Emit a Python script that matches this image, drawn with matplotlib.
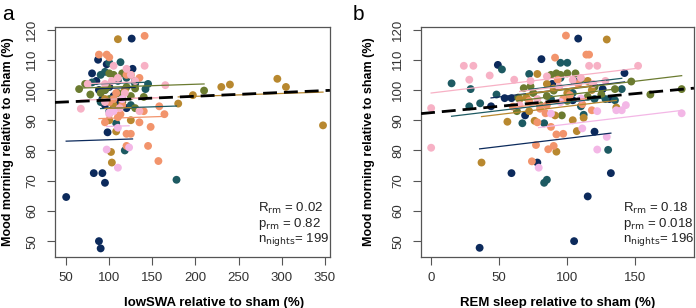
import matplotlib
matplotlib.use("Agg")
import matplotlib.pyplot as plt

plt.rcParams['font.family'] = ['Liberation Sans', 'DejaVu Sans']
plt.rcParams['mathtext.default'] = 'regular'

# colours used for the participants
navy = '#0c2a5c'
teal = '#1d5a62'
olive = '#6b7b30'
golden = '#b8882f'
salmon = '#f2946c'
pink = '#f7b1c5'
lilac = '#f3b7e6'

# panel a: lowSWA relative to sham vs mood, one entry per participant
# (colour, x values, y values, rmcorr intercept)
a_navy1_x = [50, 82, 92, 95, 88, 90, 98, 126, 87, 97, 80, 127]
a_navy1_y = [64.6, 72.5, 72.5, 69.3, 50, 47.6, 86, 117, 110, 108.5, 105.5, 107]
a_navy2_x = [85, 100, 110, 95, 120, 88, 105, 130, 92]
a_navy2_y = [103, 101, 96, 95, 94, 100, 98, 103, 97]
a_teal1_x = [100, 113, 90, 95, 105, 100, 108, 118, 178, 125, 90]
a_teal1_y = [109, 109.2, 105, 106, 95, 93, 89, 80, 70.3, 95, 96]
a_teal2_x = [130, 145, 142, 80, 110, 120, 95, 102]
a_teal2_y = [102, 102, 100.3, 102.5, 103, 104, 100, 97]
a_olive1_x = [65, 78, 72, 100, 105, 115, 120, 130, 140, 210, 95, 110]
a_olive1_y = [100.3, 98.5, 102, 105.5, 105, 105.5, 101, 100.5, 97.7, 99.8, 100, 99]
a_olive2_x = [100, 115, 105, 125, 90, 130, 98]
a_olive2_y = [97, 96, 94, 98, 99, 94, 101]
a_gold1_x = [180, 197, 230, 240, 295, 305, 348]
a_gold1_y = [95.5, 98.3, 101, 101.8, 103.7, 101, 88.3]
a_gold2_x = [110, 125, 102, 103, 108, 100, 125, 105, 115, 95, 118]
a_gold2_y = [116.8, 105, 79.5, 76, 86.3, 90, 90, 95, 97, 97, 100]
a_salm1_x = [88, 97, 100, 141, 148, 145, 157, 120, 125, 120, 95, 110, 135, 164]
a_salm1_y = [111.7, 111.7, 110.8, 117.9, 87.8, 81.5, 76.5, 85.5, 85.5, 81.5, 89.3, 91, 89.3, 92]
a_salm2_x = [120, 135, 113, 140, 158, 105, 115, 100, 108]
a_salm2_y = [105, 104, 92, 93, 94.6, 97, 95, 96, 99]
a_pink1_x = [105, 120, 130, 103, 118, 75, 110, 95, 125]
a_pink1_y = [108, 107, 103, 103, 99, 102, 104, 102, 105]
a_pink2_x = [67, 135, 165, 141, 100, 112, 95]
a_pink2_y = [93.8, 93, 101.6, 108, 92, 94, 96]
a_lilac_x = [97, 110, 110, 123, 105, 115, 100]
a_lilac_y = [80.3, 74.3, 87.5, 81, 93, 97, 92.5]

groups_a = [
    (navy, a_navy1_x, a_navy1_y, 82.6),
    (navy, a_navy2_x, a_navy2_y, 99.6),
    (teal, a_teal1_x, a_teal1_y, 93.0),
    (teal, a_teal2_x, a_teal2_y, 101.2),
    (olive, a_olive1_x, a_olive1_y, 100.0),
    (olive, a_olive2_x, a_olive2_y, 96.0),
    (golden, a_gold1_x, a_gold1_y, 96.0),
    (golden, a_gold2_x, a_gold2_y, 93.0),
    (salmon, a_salm1_x, a_salm1_y, 89.7),
    (salmon, a_salm2_x, a_salm2_y, 96.0),
    (pink, a_pink1_x, a_pink1_y, 101.4),
    (pink, a_pink2_x, a_pink2_y, 96.0),
    (lilac, a_lilac_x, a_lilac_y, 87.0),
]
slope_a = 0.0095
fit_a = (95.43, 0.0125)   # overall dashed line: intercept, slope
stats_a = ('0.02', '0.82', '199')

# panel b: REM sleep relative to sham vs mood
b_navy1_x = [35.6, 105, 115, 59, 132, 78, 120, 81, 108]
b_navy1_y = [47.8, 50, 64.8, 72.5, 72.5, 76, 86.2, 110.2, 117]
b_navy2_x = [49, 54, 59, 44, 69, 104, 126, 142, 89, 105, 131]
b_navy2_y = [108.3, 97.3, 97.3, 94.6, 91.6, 96.6, 100.3, 105.6, 102, 103, 97]
b_teal1_x = [15, 29, 28, 36, 48, 52, 67, 85, 83, 83, 130, 110, 112]
b_teal1_y = [102.2, 100.3, 94.6, 95.6, 98.5, 106.8, 89, 70.3, 69.3, 89, 80.2, 94.6, 91.8]
b_teal2_x = [72, 95, 100, 88, 128, 135, 120, 140, 95, 104]
b_teal2_y = [105.3, 109, 109, 97, 97, 96.6, 97, 100.3, 104, 99]
b_olive1_x = [64, 68, 73, 75, 88, 92, 95, 100, 106, 147, 161, 184]
b_olive1_y = [97.5, 100.6, 101.2, 99, 105, 105.5, 105, 105.5, 105.5, 102.8, 98.5, 100.3]
b_olive2_x = [135, 120, 110, 90, 96, 80, 85, 115, 125, 100, 63]
b_olive2_y = [100.3, 101, 103.5, 99.8, 91.6, 95, 98, 97.8, 98.5, 96.4, 93]
b_gold1_x = [37, 129, 78, 56, 65, 72, 76, 91, 104, 112, 136, 92, 107]
b_gold1_y = [76, 116.7, 105.3, 89.5, 97, 93, 89.8, 91.6, 90, 90.8, 94.2, 79.6, 86.4]
b_gold2_x = [85, 90, 115, 118, 70, 100]
b_gold2_y = [102, 100.5, 103, 100, 97.5, 99]
b_salm_x = [99, 114, 116, 91, 77, 74, 90, 86, 92, 97, 88, 78, 84, 80, 111, 118, 97, 60, 72, 85, 102, 108, 93]
b_salm_y = [118, 111.7, 111.7, 110.7, 81.8, 76.4, 81.5, 80.4, 85.3, 85.5, 87.8, 89.3, 92.3, 93.8,
            95.3, 93.3, 97, 94.5, 96.4, 95, 98.3, 102, 103.4]
b_pink1_x = [0, 0, 24, 31, 28, 43, 61, 73, 85, 116, 122, 152]
b_pink1_y = [80.9, 94, 108, 108, 103.4, 104.8, 103.4, 103, 104.5, 108, 108, 108]
b_pink2_x = [104, 110, 128, 78, 65, 94, 119]
b_pink2_y = [103.3, 104, 103, 97, 95, 101, 102]
b_lilac_x = [79, 129, 122, 111, 88, 122, 136, 140, 143, 184, 95, 110]
b_lilac_y = [74.3, 84.5, 80.3, 87.3, 92.2, 93, 93.3, 93.3, 95, 92.3, 96, 97.2]

groups_b = [
    (navy, b_navy1_x, b_navy1_y, 78.6),
    (navy, b_navy2_x, b_navy2_y, 95.0),
    (teal, b_teal1_x, b_teal1_y, 90.5),
    (teal, b_teal2_x, b_teal2_y, 96.3),
    (olive, b_olive1_x, b_olive1_y, 94.8),
    (olive, b_olive2_x, b_olive2_y, 93.0),
    (golden, b_gold1_x, b_gold1_y, 89.2),
    (golden, b_gold2_x, b_gold2_y, 95.0),
    (salmon, b_salm_x, b_salm_y, 91.0),
    (pink, b_pink1_x, b_pink1_y, 99.0),
    (pink, b_pink2_x, b_pink2_y, 96.0),
    (lilac, b_lilac_x, b_lilac_y, 83.3),
]
slope_b = 0.054
fit_b = (92.5, 0.042)
stats_b = ('0.18', '0.018', '196')

fig = plt.figure(figsize=(6.96, 3.08), dpi=100)
ax_a = fig.add_axes([0.079, 0.166, 0.395, 0.746])
ax_b = fig.add_axes([0.605, 0.166, 0.392, 0.746])


def draw_panel(ax, groups, slope, fit, stats, xlim, xticks, xlabel, xlab_x, ylab_x):
    for col, xs, ys, icpt in groups:
        ax.scatter(xs, ys, s=32, color=col, edgecolors='none', zorder=3)
    for col, xs, ys, icpt in groups:
        x0, x1 = min(xs), max(xs)
        ax.plot([x0, x1], [icpt + slope * x0, icpt + slope * x1], color=col, lw=0.9, zorder=4)
    ax.axline((0, fit[0]), slope=fit[1], color='black', lw=2, ls=(0, (5, 2.5)), zorder=5)
    ax.set_xlim(xlim)
    ax.set_ylim(44.8, 120.8)
    ax.set_xticks(xticks)
    ax.set_yticks(range(50, 121, 10))
    for lab in ax.get_yticklabels():
        lab.set_rotation(90)
        lab.set_va('center')
    ax.tick_params(direction='out', length=6, width=0.8, color='#555555',
                   labelsize=9.5, labelcolor='#333333')
    ax.tick_params(axis='x', pad=5)
    ax.tick_params(axis='y', pad=6)
    for sp in ax.spines.values():
        sp.set_color('#555555')
        sp.set_linewidth(0.9)
    ax.set_xlabel(xlabel, fontsize=9.5, fontweight='bold')
    ax.set_ylabel('Mood morning relative to sham (%)', fontsize=9, fontweight='bold')
    ax.xaxis.set_label_coords(xlab_x, -0.175)
    ax.yaxis.set_label_coords(ylab_x, 0.5)
    r, p, n = stats
    ax.text(0.74, 0.195, r'R$_{\mathrm{rm}}$ = ' + r, transform=ax.transAxes, fontsize=9.5, color='#222222')
    ax.text(0.74, 0.13, r'p$_{\mathrm{rm}}$ = ' + p, transform=ax.transAxes, fontsize=9.5, color='#222222')
    ax.text(0.74, 0.065, r'n$_{\mathrm{nights}}$= ' + n, transform=ax.transAxes, fontsize=9.5, color='#222222')


draw_panel(ax_a, groups_a, slope_a, fit_a, stats_a, (37, 356), range(50, 351, 50),
           'lowSWA relative to sham (%)', 0.58, -0.15)
draw_panel(ax_b, groups_b, slope_b, fit_b, stats_b, (-7.4, 193), [0, 50, 100, 150],
           'REM sleep relative to sham (%)', 0.5, -0.17)

fig.text(0.003, 0.935, 'a', fontsize=15)
fig.text(0.507, 0.935, 'b', fontsize=15)

fig.savefig('out.png', dpi=100)
